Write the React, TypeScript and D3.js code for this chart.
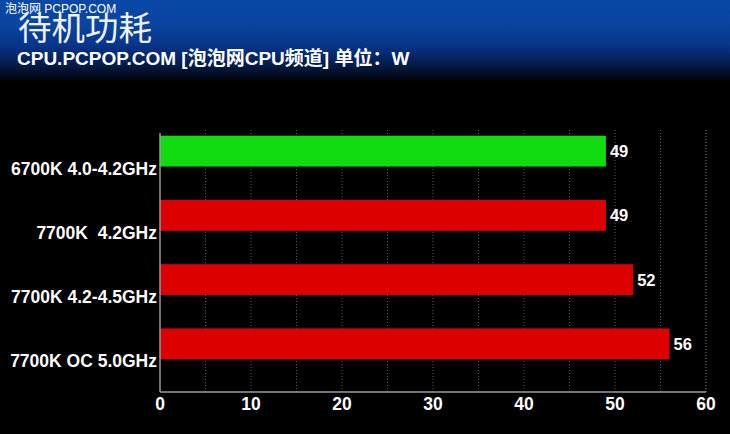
import React from "react";
import * as d3 from "d3";

const categories = ["6700K 4.0-4.2GHz", "7700K  4.2GHz", "7700K 4.2-4.5GHz", "7700K OC 5.0GHz"];
const values = [49, 49, 52, 56];
const barColors = ["#10dc10", "#dc0000", "#dc0000", "#dc0000"];
const xTicks = [0, 10, 20, 30, 40, 50, 60];
const gridTicks = [5, 10, 15, 20, 25, 30, 35, 40, 45, 50, 55, 60];
const title = "待机功耗";
const subtitle = "CPU.PCPOP.COM [泡泡网CPU频道] 单位：W";
const watermark = "泡泡网  PCPOP.COM";

const W = 730;
const H = 434;
const left = 160;
const right = 706;
const top = 119;
const axisY = 392;

export default function App() {
  const x = d3.scaleLinear().domain([0, 60]).range([left, right]);
  const y = d3
    .scaleBand<string>()
    .domain(categories)
    .range([top, 376])
    .paddingInner(0.52)
    .paddingOuter(0.26);
  const bw = y.bandwidth();
  const font = "'Liberation Sans', Arial, sans-serif";
  const cjk = "'Liberation Sans', 'Noto Sans CJK SC', sans-serif";

  return (
    <svg
      width={W}
      height={H}
      style={{ position: "fixed", left: 0, top: 0, display: "block" }}
    >
      <defs>
        <linearGradient id="hdr" x1="0" y1="0" x2="0" y2="1">
          <stop offset="0" stopColor="#0a48a8" />
          <stop offset="0.3" stopColor="#0844a0" />
          <stop offset="0.55" stopColor="#07358a" />
          <stop offset="0.8" stopColor="#041a48" />
          <stop offset="1" stopColor="#000000" />
        </linearGradient>
      </defs>
      <rect x={0} y={0} width={W} height={H} fill="#000" />
      <rect x={0} y={0} width={W} height={82} fill="url(#hdr)" />
      <text
        x={18}
        y={40}
        fill="#eef2fa"
        fontSize={33.5}
        fontFamily="'Noto Sans CJK SC', sans-serif"
      >
        {title}
      </text>
      <text x={5} y={13} fill="#ffffff" fontSize={12} fontFamily={cjk}>
        {watermark}
      </text>
      <text
        x={17}
        y={65}
        fill="#ffffff"
        fontSize={19}
        fontWeight="bold"
        fontFamily={cjk}
      >
        {subtitle}
      </text>

      {gridTicks.map((t) => (
        <line
          key={"g" + t}
          x1={x(t)}
          x2={x(t)}
          y1={130}
          y2={axisY}
          stroke={t === 60 ? "#8a8a8a" : "#5a5a5a"}
          strokeWidth={1}
          strokeDasharray="1,2"
        />
      ))}

      {categories.map((c, i) => (
        <g key={c}>
          <rect
            x={x(0)}
            y={y(c)!}
            width={x(values[i]) - x(0)}
            height={bw}
            fill={barColors[i]}
          />
          <text
            x={x(values[i]) + 4}
            y={y(c)! + bw / 2 + 6}
            fill="#fff"
            fontSize={16.5}
            fontWeight="bold"
            fontFamily={font}
          >
            {values[i]}
          </text>
          <text
            x={157}
            y={y(c)! + bw + 8}
            fill="#fff"
            fontSize={17.5}
            fontWeight="bold"
            textAnchor="end"
            fontFamily={font}
            style={{ whiteSpace: "pre" }}
          >
            {c}
          </text>
        </g>
      ))}

      <line x1={left} x2={left} y1={133} y2={axisY} stroke="#9a9a9a" strokeWidth={1.5} />
      <line x1={left} x2={right} y1={axisY} y2={axisY} stroke="#9a9a9a" strokeWidth={1.5} />
      {xTicks.map((t) => (
        <text
          key={"t" + t}
          x={x(t)}
          y={axisY + 18}
          fill="#fff"
          fontSize={17.5}
          fontWeight="bold"
          textAnchor="middle"
          fontFamily={font}
        >
          {t}
        </text>
      ))}
    </svg>
  );
}
